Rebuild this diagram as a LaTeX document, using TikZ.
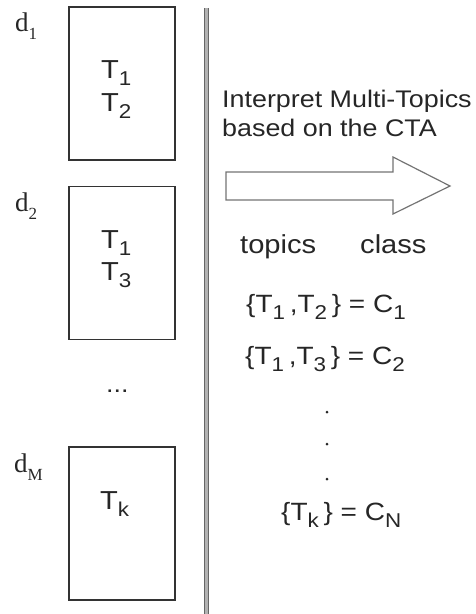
\documentclass[tikz,border=0pt]{standalone}
\usepackage{fontspec}
\setmainfont{Liberation Sans}
\newfontfamily\seriffam{Liberation Serif}
\newcommand\hs[1]{\scalebox{1.12}[1]{#1}}
\newcommand\bsub[1]{\raisebox{-0.3em}{\fontsize{20}{20}\selectfont #1}}
\newcommand\fsub[1]{\raisebox{-0.3em}{\fontsize{20}{20}\selectfont #1}}
\newcommand\dsub[1]{\raisebox{-0.3em}{\fontsize{17}{17}\selectfont #1}}
\begin{document}
\begin{tikzpicture}[x=1pt,y=-1pt,
  docbox/.style={draw=black!80, line width=1.2pt, minimum width=106pt, minimum height=153pt, inner sep=0pt},
  txt/.style={inner sep=0pt, anchor=base west, text=black!85},
  boxtxt/.style={txt, font=\fontsize{26}{26}\selectfont},
  rtxt/.style={txt, font=\fontsize{24}{24}\selectfont},
  ftxt/.style={txt, font=\fontsize{25}{25}\selectfont},
  dlab/.style={txt, font=\seriffam\fontsize{27}{27}\selectfont},
  bigarrow/.style={draw=black!55, line width=1.2pt, line join=miter}]
\useasboundingbox (0,0) rectangle (476,614);
% document boxes
\node[docbox] (b1) at (122,83.5) {};
\node[docbox] (b2) at (122,263) {};
\node[docbox] (b3) at (122,523.5) {};
% labels
\node[dlab] (d1) at (15,31) {d\dsub{1}};
\node[dlab] (d2) at (15,211) {d\dsub{2}};
\node[dlab] (dM) at (14,472) {d\dsub{M}};
% topics in boxes
\node[boxtxt] (t11) at (101,78) {\hs{T\bsub{1}}};
\node[boxtxt] (t12) at (101,111) {\hs{T\bsub{2}}};
\node[boxtxt] (t21) at (101,248) {\hs{T\bsub{1}}};
\node[boxtxt] (t23) at (101,280) {\hs{T\bsub{3}}};
\node[boxtxt] (t3k) at (100,509) {\hs{T\bsub{k}}};
\node[rtxt] (ell) at (106,392) {\hs{...}};
% separator
\coordinate (vtop) at (206.5,8);
\coordinate (vbot) at (206.5,614);
\draw[draw=black!60, line width=1.6pt, double=black!30, double distance=2.2pt] (vtop) -- (vbot);
% right side
\node[rtxt] (l1) at (222,107) {\hs{Interpret Multi-Topics}};
\node[rtxt] (l2) at (222,136) {\hs{based on the CTA}};
\draw[bigarrow] (226,172) -- (393,172) -- (393,157) -- (450,186) -- (393,214) -- (393,200) -- (226,200) -- cycle;
\node[boxtxt] (top) at (240,253) {\hs{topics}};
\node[boxtxt] (cls) at (360,253) {\hs{class}};
\node[ftxt] (f1) at (246,312) {\hs{\{T\fsub{1}\,,T\fsub{2}\,\} = C\fsub{1}}};
\node[ftxt] (f2) at (245,364) {\hs{\{T\fsub{1}\,,T\fsub{3}\,\} = C\fsub{2}}};
\fill[black!85] (327,412) circle (1.5pt);
\fill[black!85] (327,444) circle (1.5pt);
\fill[black!85] (327,479) circle (1.5pt);
\node[ftxt] (f3) at (281,520) {\hs{\{T\fsub{k}\,\} = C\fsub{N}}};
\end{tikzpicture}
\end{document}
